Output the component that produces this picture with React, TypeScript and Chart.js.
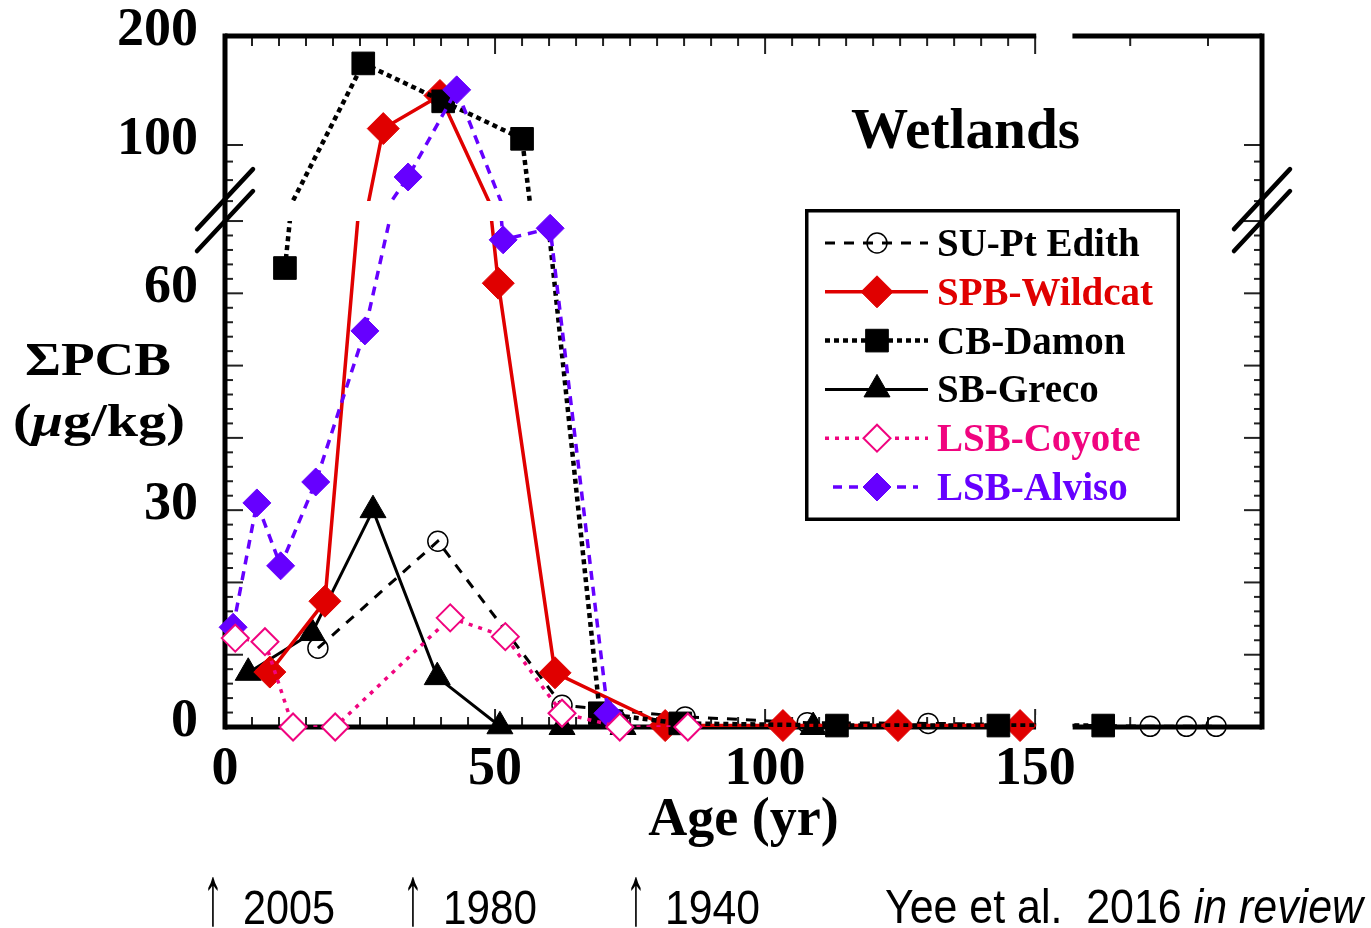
import React, { useEffect, useRef } from 'react';
import { Chart, registerables } from 'chart.js';

Chart.register(...registerables);

// ---------------- data (age in yr, ΣPCB in µg/kg) ----------------
const SERIES_NAMES = ['SU-Pt Edith', 'SPB-Wildcat', 'CB-Damon', 'SB-Greco', 'LSB-Coyote', 'LSB-Alviso'];

const EDITH_AGE = [17.2, 39.4, 62.4, 85.2, 107.8, 130.2, 171.3, 178, 183.5];
const EDITH_PCB = [10.9, 25.7, 3.0, 1.4, 0.6, 0.5, 0.1, 0.1, 0.1];

const WILDCAT_AGE = [8.3, 18.5, 29.3, 39.8, 50.6, 61.1, 81.5, 103.3, 124.6, 147.2];
const WILDCAT_PCB = [7.6, 17.4, 111, 137, 61.4, 7.5, 0.2, 0.2, 0.2, 0.2];

const DAMON_AGE = [11.1, 25.6, 40.4, 55.0, 69.4, 84.3, 113.3, 143.2, 162.6];
const DAMON_PCB = [63.5, 168, 132, 104, 1.9, 0.5, 0.2, 0.2, 0.2];

const GRECO_AGE = [4.3, 16.1, 27.4, 39.3, 50.9, 62.4, 73.7, 108.9];
const GRECO_PCB = [7.5, 13.0, 30.0, 6.9, 0.1, 0, 0, 0];

const COYOTE_AGE = [1.9, 7.4, 12.6, 20.4, 41.7, 51.9, 62.4, 73.1, 85.7];
const COYOTE_PCB = [12.3, 11.8, 0, 0, 15.1, 12.5, 1.9, 0, 0];

const ALVISO_AGE = [1.5, 5.9, 10.3, 16.8, 25.9, 33.9, 42.9, 51.5, 60.2, 70.9];
const ALVISO_PCB = [13.8, 31.0, 22.3, 33.9, 54.8, 81.6, 142, 67.4, 69.0, 1.9];

// ---------------- axes ----------------
const X_MAX = 192;
const X_TICK_LABELS = [0, 50, 100, 150];
const X_MINOR_STEP = 5;
const X_MAJOR_STEP = 50;
const X_BREAK_FROM = 150.2;
const X_BREAK_TO = 156.9;
const X_POST_BREAK_TICKS = [167.6, 182];

const Y_BREAK = 70;
const Y_LO_MAX = 95.6;
const Y_HI_MIN = 2.47;
const Y_HI_MAX = 200;
const Y_LO_TICK_LABELS = [0, 30, 60];
const Y_HI_TICK_LABELS = [100, 200];
const Y_LO_MINOR_STEP = 2;
const Y_LO_MAJOR_STEP = 10;
const Y_HI_MINOR_TICKS = [70, 80, 90];
const Y_HI_MAJOR_TICKS = [100];

const FOOTER_YEARS = ['2005', '1980', '1940'];
const CITATION = 'Yee et al.  2016 ';
const CITATION_ITALIC = 'in review';

// ---------------- styles ----------------
const RED = '#E00000';
const PINK = '#F0047F';
const PURPLE = '#6600FF';

const STYLES: any[] = [
  { color: '#000', width: 3, dash: [10, 9], point: 'circle', r: 10, fill: 'rgba(0,0,0,0)', bw: 1.5, text: '#000' },
  { color: RED, width: 3.5, dash: [], point: 'rectRot', r: 16, fill: RED, bw: 1, text: RED },
  { color: '#000', width: 4.5, dash: [5, 4], point: 'rect', r: 16, fill: '#000', bw: 1, text: '#000' },
  { color: '#000', width: 3, dash: [], point: 'triangle', r: 15, fill: '#000', bw: 1, text: '#000' },
  { color: PINK, width: 3.5, dash: [4, 6], point: 'rectRot', r: 13.5, fill: '#fff', bw: 2, text: PINK },
  { color: PURPLE, width: 3.5, dash: [9, 7], point: 'rectRot', r: 14, fill: PURPLE, bw: 1, text: PURPLE },
];
const DRAW_ORDER = [0, 3, 1, 2, 5, 4];

const SERIES_AGE = [EDITH_AGE, WILDCAT_AGE, DAMON_AGE, GRECO_AGE, COYOTE_AGE, ALVISO_AGE];
const SERIES_PCB = [EDITH_PCB, WILDCAT_PCB, DAMON_PCB, GRECO_PCB, COYOTE_PCB, ALVISO_PCB];

const SERIF = '"Liberation Serif", "Times New Roman", serif';
const NARROW = '"Liberation Sans Narrow", "Liberation Sans", Arial, sans-serif';

function buildDatasets() {
  const datasets: any[] = [];
  const bands: (string | null)[] = [];
  DRAW_ORDER.forEach((s, k) => {
    const st = STYLES[s];
    const pts = SERIES_AGE[s].map((x, i) => ({ x, y: SERIES_PCB[s][i] }));
    const lineBase = {
      type: 'line',
      label: SERIES_NAMES[s],
      data: pts,
      borderColor: st.color,
      borderWidth: st.width,
      borderDash: st.dash,
      pointRadius: 0,
      fill: false,
      tension: 0,
    };
    datasets.push({ ...lineBase, yAxisID: 'yLo', order: 1000 - (k * 10 + 0) });
    bands.push('lo');
    datasets.push({ ...lineBase, yAxisID: 'yHi', order: 1000 - (k * 10 + 1) });
    bands.push('hi');
    const ptBase = {
      type: 'line',
      label: SERIES_NAMES[s],
      showLine: false,
      clip: false,
      pointStyle: st.point,
      pointRadius: st.r,
      pointBackgroundColor: st.fill,
      pointBorderColor: st.color,
      pointBorderWidth: st.bw,
    };
    datasets.push({ ...ptBase, yAxisID: 'yLo', data: pts.filter((p) => p.y <= Y_BREAK), order: 1000 - (k * 10 + 2) });
    bands.push(null);
    datasets.push({ ...ptBase, yAxisID: 'yHi', data: pts.filter((p) => p.y > Y_BREAK), order: 1000 - (k * 10 + 3) });
    bands.push(null);
  });
  return { datasets, bands };
}

function drawMarker(ctx: CanvasRenderingContext2D, st: any, x: number, y: number) {
  const r = st.r;
  ctx.beginPath();
  if (st.point === 'circle') {
    ctx.arc(x, y, r, 0, Math.PI * 2);
  } else if (st.point === 'rectRot') {
    ctx.moveTo(x - r, y);
    ctx.lineTo(x, y - r);
    ctx.lineTo(x + r, y);
    ctx.lineTo(x, y + r);
    ctx.closePath();
  } else if (st.point === 'rect') {
    const h = r * Math.SQRT1_2;
    ctx.rect(x - h, y - h, 2 * h, 2 * h);
  } else {
    for (let k = 0; k < 3; k++) {
      const ang = (k * 2 * Math.PI) / 3;
      const px = x + Math.sin(ang) * r;
      const py = y - Math.cos(ang) * r;
      if (k === 0) ctx.moveTo(px, py);
      else ctx.lineTo(px, py);
    }
    ctx.closePath();
  }
  ctx.setLineDash([]);
  ctx.fillStyle = st.fill;
  ctx.fill();
  ctx.lineWidth = st.bw;
  ctx.strokeStyle = st.color;
  ctx.stroke();
}

function drawFitted(ctx: CanvasRenderingContext2D, parts: any[], left: number, baseline: number, width: number) {
  let natural = 0;
  parts.forEach((p) => {
    ctx.font = p.font;
    natural += ctx.measureText(p.t).width;
  });
  const s = width / natural;
  ctx.save();
  ctx.translate(left, baseline);
  ctx.scale(s, 1);
  ctx.textAlign = 'left';
  ctx.textBaseline = 'alphabetic';
  let xx = 0;
  parts.forEach((p) => {
    ctx.font = p.font;
    ctx.fillStyle = p.color || '#000';
    ctx.fillText(p.t, xx, 0);
    xx += ctx.measureText(p.t).width;
  });
  ctx.restore();
}

function makeBandClip(bands: (string | null)[]) {
  return {
    id: 'bandClip',
    afterLayout(chart: any) {
      // both value axes share the label column left of the plot
      ['yLo', 'yHi'].forEach((id) => {
        const s = chart.scales[id];
        s.left = 0;
        s.right = chart.chartArea.left;
        s.width = s.right - s.left;
      });
    },
    beforeDatasetDraw(chart: any, args: any) {
      const band = bands[args.index];
      if (!band) return;
      const { ctx, chartArea: a, scales } = chart;
      ctx.save();
      ctx.beginPath();
      if (band === 'lo') {
        const top = scales.yLo.getPixelForValue(Y_BREAK);
        ctx.rect(a.left - 10, top, a.right - a.left + 20, a.bottom + 10 - top);
      } else {
        const bottom = scales.yHi.getPixelForValue(Y_BREAK);
        ctx.rect(a.left - 10, a.top - 10, a.right - a.left + 20, bottom - (a.top - 10));
      }
      ctx.clip();
    },
    afterDatasetDraw(chart: any, args: any) {
      if (bands[args.index]) chart.ctx.restore();
    },
  };
}

const framePlugin = {
  id: 'frame',
  beforeDatasetsDraw(chart: any) {
    const { ctx, chartArea: a, scales } = chart;
    const sx = scales.x;
    const lo = scales.yLo;
    const hi = scales.yHi;
    const gx0 = sx.getPixelForValue(X_BREAK_FROM);
    const gx1 = sx.getPixelForValue(X_BREAK_TO);
    const seg = (x1: number, y1: number, x2: number, y2: number) => {
      ctx.beginPath();
      ctx.moveTo(x1, y1);
      ctx.lineTo(x2, y2);
      ctx.stroke();
    };
    ctx.save();
    ctx.setLineDash([]);
    ctx.strokeStyle = '#222';
    ctx.lineWidth = 2;
    const xTicks: number[] = [];
    for (let v = X_MINOR_STEP; v <= X_TICK_LABELS[X_TICK_LABELS.length - 1]; v += X_MINOR_STEP) xTicks.push(v);
    X_POST_BREAK_TICKS.forEach((v) => xTicks.push(v));
    xTicks.forEach((v) => {
      const px = sx.getPixelForValue(v);
      const len = v % X_MAJOR_STEP === 0 ? 18 : 10;
      seg(px, a.bottom, px, a.bottom - len);
      seg(px, a.top, px, a.top + len);
    });
    for (let v = Y_LO_MINOR_STEP; v <= Y_BREAK; v += Y_LO_MINOR_STEP) {
      const py = lo.getPixelForValue(v);
      const len = v % Y_LO_MAJOR_STEP === 0 ? 18 : 8;
      seg(a.left, py, a.left + len, py);
      seg(a.right, py, a.right - len, py);
    }
    Y_HI_MINOR_TICKS.concat(Y_HI_MAJOR_TICKS).forEach((v) => {
      const py = hi.getPixelForValue(v);
      const len = Y_HI_MAJOR_TICKS.includes(v) ? 18 : 8;
      seg(a.left, py, a.left + len, py);
      seg(a.right, py, a.right - len, py);
    });
    ctx.strokeStyle = '#000';
    ctx.lineWidth = 5;
    seg(a.left, a.top - 2.5, a.left, a.bottom + 2.5);
    seg(a.right, a.top - 2.5, a.right, a.bottom + 2.5);
    seg(a.left, a.top, gx0, a.top);
    seg(gx1, a.top, a.right, a.top);
    seg(a.left, a.bottom, gx0, a.bottom);
    seg(gx1, a.bottom, a.right, a.bottom);
    ctx.restore();
  },
  afterDatasetsDraw(chart: any) {
    const { ctx, chartArea: a, scales } = chart;
    const sx = scales.x;
    const gx0 = sx.getPixelForValue(X_BREAK_FROM);
    const gx1 = sx.getPixelForValue(X_BREAK_TO);
    ctx.save();
    ctx.fillStyle = '#fff';
    ctx.fillRect(gx0, a.bottom - 12, gx1 - gx0, 24);
    // axis break marks
    const c1 = scales.yHi.getPixelForValue(Y_BREAK) - 2;
    const c2 = scales.yLo.getPixelForValue(Y_BREAK);
    ctx.strokeStyle = '#000';
    ctx.lineWidth = 4.5;
    ctx.lineCap = 'round';
    ctx.setLineDash([]);
    [a.left, a.right].forEach((cx) => {
      [c1, c2].forEach((cy) => {
        ctx.beginPath();
        ctx.moveTo(cx - 28, cy + 30);
        ctx.lineTo(cx + 28, cy - 30);
        ctx.stroke();
      });
    });
    ctx.restore();
  },
  afterDraw(chart: any) {
    const ctx: CanvasRenderingContext2D = chart.ctx;
    ctx.save();
    // panel title
    drawFitted(ctx, [{ t: 'Wetlands', font: `bold 56px ${SERIF}` }], 851, 148, 229);
    // y axis title
    drawFitted(ctx, [{ t: 'ΣPCB', font: `bold 46px ${SERIF}` }], 25, 375, 146);
    drawFitted(
      ctx,
      [
        { t: '(', font: `bold 46px ${SERIF}` },
        { t: 'μ', font: `italic bold 46px ${SERIF}` },
        { t: 'g/kg)', font: `bold 46px ${SERIF}` },
      ],
      13,
      436,
      172,
    );
    // legend
    const L = { x: 805, y: 209, w: 375, h: 312 };
    ctx.fillStyle = '#fff';
    ctx.fillRect(L.x, L.y, L.w, L.h);
    ctx.strokeStyle = '#000';
    ctx.lineWidth = 3.5;
    ctx.setLineDash([]);
    ctx.strokeRect(L.x + 1.75, L.y + 1.75, L.w - 3.5, L.h - 3.5);
    SERIES_NAMES.forEach((name, i) => {
      const st = STYLES[i];
      const cy = 243 + i * 48.8;
      const x0 = i === 5 ? 833 : 825;
      const x1 = i === 5 ? 918 : 928;
      ctx.beginPath();
      ctx.strokeStyle = st.color;
      ctx.lineWidth = st.width;
      ctx.setLineDash(st.dash);
      ctx.moveTo(x0, cy);
      ctx.lineTo(x1, cy);
      ctx.stroke();
      drawMarker(ctx, st, 877, cy);
      ctx.font = `bold 39px ${SERIF}`;
      ctx.fillStyle = st.text;
      ctx.textAlign = 'left';
      ctx.textBaseline = 'alphabetic';
      ctx.fillText(name, 937, cy + 13);
    });
    // footer
    const arrowX = [213, 413, 636];
    const yearLeft = [243, 443, 665];
    const yearW = [92, 94, 95];
    FOOTER_YEARS.forEach((yr, i) => {
      drawFitted(ctx, [{ t: '↑', font: `84px ${NARROW}` }], arrowX[i] - 10, 924, 20);
      drawFitted(ctx, [{ t: yr, font: `48px ${NARROW}` }], yearLeft[i], 924, yearW[i]);
    });
    drawFitted(
      ctx,
      [
        { t: CITATION, font: `48px ${NARROW}` },
        { t: CITATION_ITALIC, font: `italic 48px ${NARROW}` },
      ],
      885,
      923,
      478,
    );
    ctx.restore();
  },
};

export default function App() {
  const ref = useRef<HTMLCanvasElement>(null);
  useEffect(() => {
    if (!ref.current) return;
    const { datasets, bands } = buildDatasets();
    const tickFont = { family: SERIF, size: 54, weight: 'bold' };
    const noPad = (s: any) => {
      s.paddingTop = 0;
      s.paddingBottom = 0;
    };
    const chart = new Chart(ref.current, {
      type: 'line',
      data: { datasets },
      options: {
        animation: false,
        responsive: false,
        devicePixelRatio: 1,
        events: [],
        layout: { padding: { left: 0, top: 36, right: 109, bottom: 75 } },
        plugins: { legend: { display: false }, tooltip: { enabled: false }, title: { display: false } },
        scales: {
          x: {
            type: 'linear',
            position: 'bottom',
            min: 0,
            max: X_MAX,
            bounds: 'data',
            grid: { display: false, drawTicks: false },
            border: { display: false },
            ticks: { font: tickFont, color: '#000', padding: 11, autoSkip: false, maxRotation: 0, callback: (v: any) => String(v) },
            afterBuildTicks: (s: any) => {
              s.ticks = X_TICK_LABELS.map((v) => ({ value: v }));
            },
            afterFit: (s: any) => {
              s.height = 126;
              s.paddingLeft = 0;
              s.paddingRight = 0;
            },
            title: { display: true, text: 'Age (yr)', font: tickFont, color: '#000', padding: 0 },
          },
          yLo: {
            type: 'linear',
            position: 'left',
            weight: 1,
            min: 0,
            max: Y_LO_MAX,
            bounds: 'data',
            grid: { display: false, drawTicks: false },
            border: { display: false },
            ticks: { font: tickFont, color: '#000', padding: 27, labelOffset: -5, autoSkip: false, callback: (v: any) => String(v) },
            afterBuildTicks: (s: any) => {
              s.ticks = Y_LO_TICK_LABELS.map((v) => ({ value: v }));
            },
            afterFit: (s: any) => {
              s.width = 0;
              noPad(s);
            },
          },
          yHi: {
            type: 'logarithmic',
            position: 'left',
            weight: 0,
            min: Y_HI_MIN,
            max: Y_HI_MAX,
            bounds: 'data',
            grid: { display: false, drawTicks: false },
            border: { display: false },
            ticks: { font: tickFont, color: '#000', padding: 27, labelOffset: -5, autoSkip: false, callback: (v: any) => String(v) },
            afterBuildTicks: (s: any) => {
              s.ticks = Y_HI_TICK_LABELS.map((v) => ({ value: v }));
            },
            afterFit: (s: any) => {
              s.width = 225;
              noPad(s);
            },
          },
        },
      },
      plugins: [makeBandClip(bands), framePlugin],
    } as any);
    return () => chart.destroy();
  }, []);
  return (
    <div style={{ position: 'absolute', left: 0, top: 0, width: 1371, height: 928, background: '#fff' }}>
      <canvas ref={ref} width={1371} height={928} style={{ display: 'block', width: 1371, height: 928 }} />
    </div>
  );
}
